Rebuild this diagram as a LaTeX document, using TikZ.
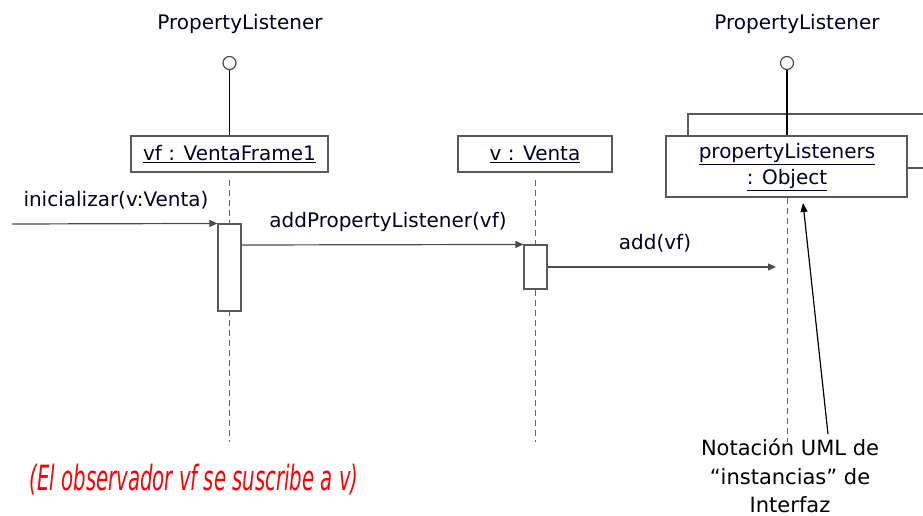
\documentclass[tikz,border=0pt]{standalone}
\usepackage{fontspec}
\setmainfont{DejaVu Sans}
\usetikzlibrary{arrows.meta}
\begin{document}
\begin{tikzpicture}[x=1pt,y=-1pt,
  objbox/.style={draw=black!65,line width=1.1pt,fill=white,inner sep=0pt},
  txt/.style={font=\fontsize{20}{24}\selectfont,text=black!85!blue,inner sep=0pt},
  lifeline/.style={draw=black!60,line width=0.9pt,dash pattern=on 6pt off 4pt},
  actbox/.style={draw=black!65,line width=1.1pt,fill=white},
  msg/.style={draw=black!70,line width=1.2pt,-{Triangle[length=8pt,width=7pt]}},
  stick/.style={draw=black,line width=1.3pt},
  lolli/.style={draw=black!70,line width=1.2pt,fill=white}]
\useasboundingbox (0,0) rectangle (923,516);
% interface labels
\node[txt] (pl1) at (240,24) {PropertyListener};
\node[txt] (pl2) at (797,24) {PropertyListener};
% back (stacked) box
\draw[objbox] (688,114) rectangle (940,168);
% objects
\node[objbox,minimum width=197pt,minimum height=36pt] (vf) at (229.5,154) {};
\node[txt] at (vf.center) {\underline{vf : VentaFrame1}};
\node[objbox,minimum width=154pt,minimum height=36pt] (v) at (535,154) {};
\node[txt] at (v.center) {\underline{v : Venta}};
\node[objbox,minimum width=241pt,minimum height=61pt] (pls) at (786.5,166.5) {};
\node[txt,align=center] at (787,167) {\underline{propertyListeners}\\[2pt]\underline{: Object}};
% lollipops
\node[lolli,circle,minimum size=13pt,inner sep=0pt] (c1) at (229.5,63) {};
\node[lolli,circle,minimum size=13pt,inner sep=0pt] (c2) at (787,63) {};
\draw[stick] (c1.south) -- (c1.south |- vf.north);
\draw[stick] (c2.south) -- (c2.south |- pls.north);
% lifelines
\coordinate (l1e) at (229.5,442);
\coordinate (l2e) at (535,442);
\coordinate (l3e) at (787,442);
\draw[lifeline] (229.5,180) -- (l1e);
\draw[lifeline] (535,180) -- (l2e);
\draw[lifeline] (pls.south -| l3e) -- (l3e);
% activations
\node[actbox,minimum width=23pt,minimum height=87pt,inner sep=0pt] (a1) at (229.5,267.5) {};
\node[actbox,minimum width=23pt,minimum height=44pt,inner sep=0pt] (a2) at (535.5,267) {};
% messages
\coordinate (start) at (12,224);
\draw[msg] (start) -- (a1.north west);
\node[txt] at (116,200) {inicializar(v:Venta)};
\coordinate (m2s) at (241,245);
\draw[msg] (a1.east |- m2s) -- (a2.north west);
\node[txt] at (388,222) {addPropertyListener(vf)};
\coordinate (m3e) at (776,267);
\draw[msg] (a2.east |- m3e) -- (m3e);
\node[txt] at (655,243) {add(vf)};
% note
\node[align=center,font=\fontsize{21}{28.5}\selectfont,text=black,inner sep=0pt] (note) at (790,476)
  {Notación UML de\\“instancias” de\\Interfaz};
\coordinate (notetip) at (828,434);
\draw[draw=black,line width=1.2pt,-{Triangle[length=9pt,width=7pt]}] (notetip) -- (803,203);
% red caption
\node[font=\itshape\fontsize{24}{28}\selectfont,text=red,inner sep=0pt] (cap) at (194,480)
  {\scalebox{0.82}[1.45]{(El observador vf se suscribe a v)}};
\end{tikzpicture}
\end{document}
